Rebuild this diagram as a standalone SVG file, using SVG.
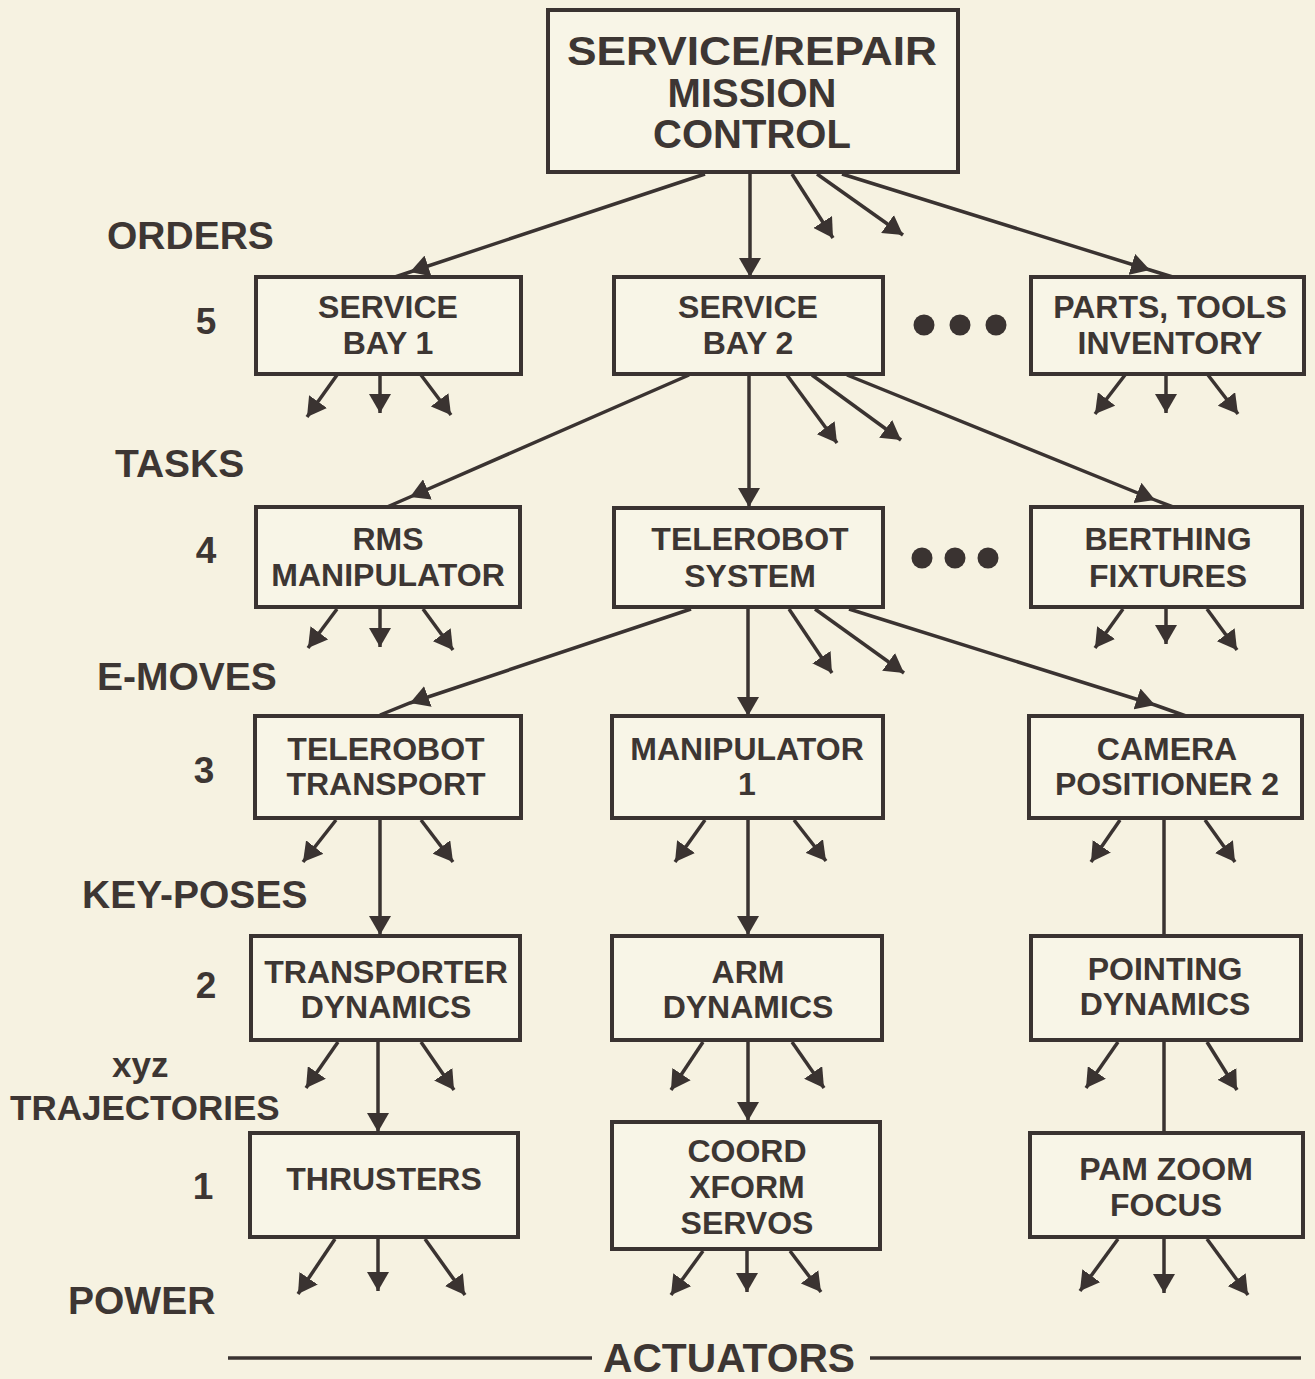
<svg xmlns="http://www.w3.org/2000/svg" width="1315" height="1379" viewBox="0 0 1315 1379">
<style>
.bg{fill:#f6f2e1}
.box{fill:#f8f5e7;stroke:#3a3331;stroke-width:4}
.t{font-family:"Liberation Sans",Arial,sans-serif;font-weight:bold;fill:#3d3633;text-anchor:middle}
.bt{font-size:32px}
.top{font-size:40px}
.lb{font-family:"Liberation Sans",Arial,sans-serif;font-weight:bold;fill:#3d3633;font-size:39px}
.num{font-size:37px}
.c{fill:none;stroke:#3a3331;stroke-width:3.5}
.ce{marker-end:url(#ah)}
.cm{marker-mid:url(#ah)}
.dot{fill:#3a3331}
</style>
<defs>
<marker id="ah" markerUnits="userSpaceOnUse" markerWidth="22" markerHeight="22" refX="19" refY="11" orient="auto">
<path d="M0,0 L19,11 L0,22 Z" fill="#3a3331"/>
</marker>
</defs>
<rect class="bg" x="0" y="0" width="1315" height="1379"/>

<g id="labels">
<text class="lb" x="107" y="249">ORDERS</text>
<text class="lb" x="115" y="477">TASKS</text>
<text class="lb" x="97" y="690">E-MOVES</text>
<text class="lb" x="82" y="908">KEY-POSES</text>
<text class="lb" x="112" y="1077" style="font-size:35px">xyz</text>
<text class="lb" x="10" y="1120" style="font-size:35px">TRAJECTORIES</text>
<text class="lb" x="68" y="1314">POWER</text>
<text class="t num" x="206" y="334">5</text>
<text class="t num" x="206" y="563">4</text>
<text class="t num" x="204" y="783">3</text>
<text class="t num" x="206" y="998">2</text>
<text class="t num" x="203" y="1199">1</text>
<text class="t" x="729" y="1372" style="font-size:40px" textLength="252" lengthAdjust="spacingAndGlyphs">ACTUATORS</text>
<line class="c" x1="228" y1="1358" x2="592" y2="1358"/>
<line class="c" x1="870" y1="1358" x2="1301" y2="1358"/>
</g>

<g id="dots">
<circle class="dot" cx="924" cy="325" r="10.5"/>
<circle class="dot" cx="960" cy="325" r="10.5"/>
<circle class="dot" cx="996" cy="325" r="10.5"/>
<circle class="dot" cx="922" cy="558" r="10.5"/>
<circle class="dot" cx="955" cy="558" r="10.5"/>
<circle class="dot" cx="988" cy="558" r="10.5"/>
</g>

<g id="connectors">
<!-- from mission control -->
<path class="c cm" d="M705,174 L410,272 L389,279"/>
<path class="c ce" d="M750,174 L750,277"/>
<path class="c ce" d="M792,174 L833,238"/>
<path class="c ce" d="M817,174 L903,235"/>
<path class="c cm" d="M842,174 L1150,270 L1176,278"/>
<!-- service bay 1 stubs -->
<path class="c ce" d="M337,375 L307,417"/>
<path class="c ce" d="M380,375 L380,413"/>
<path class="c ce" d="M421,375 L451,415"/>
<!-- parts stubs -->
<path class="c ce" d="M1125,375 L1095,414"/>
<path class="c ce" d="M1166,375 L1166,413"/>
<path class="c ce" d="M1208,375 L1238,414"/>
<!-- service bay 2 -->
<path class="c cm" d="M689,375 L410,497 L387,507"/>
<path class="c ce" d="M749,375 L749,507"/>
<path class="c ce" d="M787,375 L837,443"/>
<path class="c ce" d="M812,375 L901,440"/>
<path class="c cm" d="M847,375 L1155,500 L1173,507"/>
<!-- RMS stubs -->
<path class="c ce" d="M337,609 L308,648"/>
<path class="c ce" d="M380,609 L380,647"/>
<path class="c ce" d="M423,609 L453,650"/>
<!-- berthing stubs -->
<path class="c ce" d="M1123,609 L1095,648"/>
<path class="c ce" d="M1166,609 L1166,644"/>
<path class="c ce" d="M1207,609 L1237,650"/>
<!-- telerobot system -->
<path class="c cm" d="M691,609 L410,703 L380,715"/>
<path class="c ce" d="M748,609 L748,716"/>
<path class="c ce" d="M789,609 L832,673"/>
<path class="c ce" d="M815,609 L904,673"/>
<path class="c cm" d="M849,609 L1155,705 L1186,716"/>
<!-- row 3 -->
<path class="c ce" d="M336,820 L303,862"/>
<path class="c ce" d="M380,820 L380,935"/>
<path class="c ce" d="M421,820 L453,862"/>
<path class="c ce" d="M705,820 L675,862"/>
<path class="c ce" d="M748,820 L748,935"/>
<path class="c ce" d="M794,820 L826,861"/>
<path class="c ce" d="M1120,820 L1091,862"/>
<path class="c" d="M1164,820 L1164,935"/>
<path class="c ce" d="M1205,820 L1235,862"/>
<!-- row 2 -->
<path class="c ce" d="M338,1042 L306,1088"/>
<path class="c ce" d="M378,1042 L378,1132"/>
<path class="c ce" d="M421,1042 L454,1090"/>
<path class="c ce" d="M703,1042 L671,1090"/>
<path class="c ce" d="M748,1042 L748,1121"/>
<path class="c ce" d="M792,1042 L824,1088"/>
<path class="c ce" d="M1118,1042 L1086,1088"/>
<path class="c" d="M1164,1042 L1164,1132"/>
<path class="c ce" d="M1207,1042 L1237,1090"/>
<!-- row 1 -->
<path class="c ce" d="M335,1239 L298,1294"/>
<path class="c ce" d="M378,1239 L378,1291"/>
<path class="c ce" d="M425,1239 L465,1295"/>
<path class="c ce" d="M703,1251 L671,1295"/>
<path class="c ce" d="M747,1251 L747,1292"/>
<path class="c ce" d="M790,1251 L821,1292"/>
<path class="c ce" d="M1118,1239 L1080,1291"/>
<path class="c ce" d="M1164,1239 L1164,1293"/>
<path class="c ce" d="M1207,1239 L1248,1295"/>
</g>

<g id="mission-control">
<rect class="box" x="548" y="10" width="410" height="162"/>
<text class="t top" x="752" y="65" textLength="370" lengthAdjust="spacingAndGlyphs">SERVICE/REPAIR</text>
<text class="t top" x="752" y="107">MISSION</text>
<text class="t top" x="752" y="148">CONTROL</text>
</g>

<g id="service-bay-1">
<rect class="box" x="256" y="277" width="265" height="97"/>
<text class="t bt" x="388" y="318">SERVICE</text>
<text class="t bt" x="388" y="354">BAY 1</text>
</g>
<g id="service-bay-2">
<rect class="box" x="614" y="277" width="269" height="97"/>
<text class="t bt" x="748" y="318">SERVICE</text>
<text class="t bt" x="748" y="354">BAY 2</text>
</g>
<g id="parts-tools-inventory">
<rect class="box" x="1031" y="277" width="273" height="97"/>
<text class="t bt" x="1170" y="318">PARTS, TOOLS</text>
<text class="t bt" x="1170" y="354">INVENTORY</text>
</g>

<g id="rms-manipulator">
<rect class="box" x="256" y="507" width="264" height="100"/>
<text class="t bt" x="388" y="550">RMS</text>
<text class="t bt" x="388" y="586">MANIPULATOR</text>
</g>
<g id="telerobot-system">
<rect class="box" x="614" y="508" width="269" height="99"/>
<text class="t bt" x="750" y="550">TELEROBOT</text>
<text class="t bt" x="750" y="587">SYSTEM</text>
</g>
<g id="berthing-fixtures">
<rect class="box" x="1031" y="507" width="271" height="100"/>
<text class="t bt" x="1168" y="550">BERTHING</text>
<text class="t bt" x="1168" y="587">FIXTURES</text>
</g>

<g id="telerobot-transport">
<rect class="box" x="255" y="716" width="266" height="102"/>
<text class="t bt" x="386" y="760">TELEROBOT</text>
<text class="t bt" x="386" y="795">TRANSPORT</text>
</g>
<g id="manipulator-1">
<rect class="box" x="612" y="716" width="271" height="102"/>
<text class="t bt" x="747" y="760">MANIPULATOR</text>
<text class="t bt" x="747" y="795">1</text>
</g>
<g id="camera-positioner-2">
<rect class="box" x="1029" y="716" width="273" height="102"/>
<text class="t bt" x="1167" y="760">CAMERA</text>
<text class="t bt" x="1167" y="795">POSITIONER 2</text>
</g>

<g id="transporter-dynamics">
<rect class="box" x="251" y="936" width="269" height="104"/>
<text class="t bt" x="386" y="983">TRANSPORTER</text>
<text class="t bt" x="386" y="1018">DYNAMICS</text>
</g>
<g id="arm-dynamics">
<rect class="box" x="612" y="936" width="270" height="104"/>
<text class="t bt" x="748" y="983">ARM</text>
<text class="t bt" x="748" y="1018">DYNAMICS</text>
</g>
<g id="pointing-dynamics">
<rect class="box" x="1031" y="936" width="270" height="104"/>
<text class="t bt" x="1165" y="980">POINTING</text>
<text class="t bt" x="1165" y="1015">DYNAMICS</text>
</g>

<g id="thrusters">
<rect class="box" x="250" y="1133" width="268" height="104"/>
<text class="t bt" x="384" y="1190">THRUSTERS</text>
</g>
<g id="coord-xform-servos">
<rect class="box" x="612" y="1122" width="268" height="127"/>
<text class="t bt" x="747" y="1162">COORD</text>
<text class="t bt" x="747" y="1198">XFORM</text>
<text class="t bt" x="747" y="1234">SERVOS</text>
</g>
<g id="pam-zoom-focus">
<rect class="box" x="1030" y="1133" width="273" height="104"/>
<text class="t bt" x="1166" y="1180">PAM ZOOM</text>
<text class="t bt" x="1166" y="1216">FOCUS</text>
</g>
</svg>
